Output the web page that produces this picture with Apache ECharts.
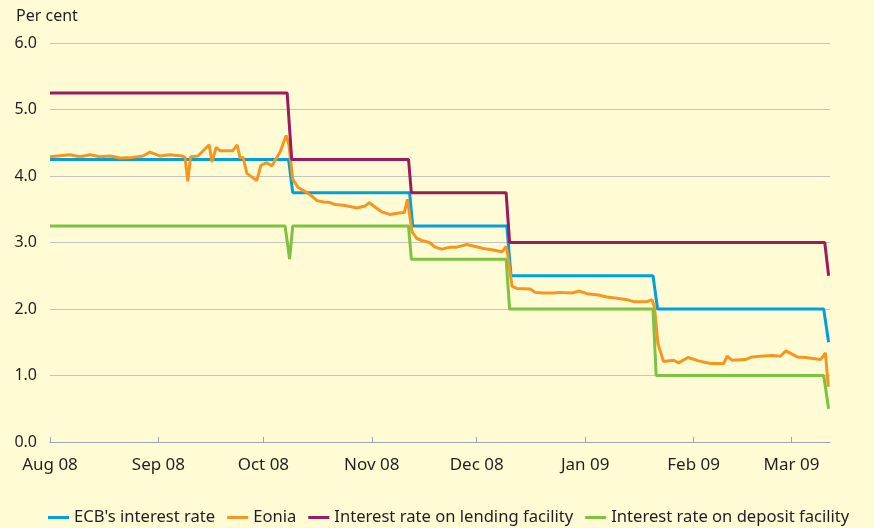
<!DOCTYPE html>
<html>
<head>
<meta charset="utf-8">
<script src="https://cdn.jsdelivr.net/npm/echarts@6/dist/echarts.min.js"></script>
<style>
  html, body { margin: 0; padding: 0; background: #fffcd5; }
  #chart { width: 874px; height: 528px; }
</style>
</head>
<body>
<div id="chart"></div>
<script>
// x values are days counted from 1 Aug 2008
const monthLabels = ['Aug 08', 'Sep 08', 'Oct 08', 'Nov 08', 'Dec 08', 'Jan 09', 'Feb 09', 'Mar 09'];
const monthStartDays = [0, 31, 61, 92, 122, 153, 184, 212];
const yTicks = [0, 1, 2, 3, 4, 5, 6];

// ECB's main refinancing rate
const ecbDays = [0, 68.2, 69.4, 102.8, 103.7, 130.6, 131.8, 172.4, 173.7, 221.2, 222.6];
const ecbValues = [4.25, 4.25, 3.75, 3.75, 3.25, 3.25, 2.5, 2.5, 2.0, 2.0, 1.5];

// Eonia (daily)
const eoniaDays = [0, 5.7, 8.6, 11.4, 14.3, 17.2, 20.0, 23.7, 26.6, 28.6, 31.5, 34.3, 37.8, 38.6, 39.4, 40.2,
  42.3, 45.5, 46.3, 47.5, 48.6, 52.3, 53.5, 54.3, 55.2, 56.3, 59.1, 60.3, 62.0, 63.4, 65.8, 67.5, 68.3,
  69.4, 70.9, 73.4, 74.8, 76.3, 78.2, 80.1, 81.5, 83.9, 85.8, 87.7, 90.1, 91.3, 93.0, 94.9, 97.3, 99.2,
  101.3, 102.2, 103.5, 104.9, 106.3, 108.5, 110.1, 112.0, 114.4, 116.3, 119.2, 121.6, 123.9, 126.3,
  129.2, 130.4, 130.8, 132.1, 133.5, 137.3, 138.7, 141.1, 144.0, 145.9, 149.2, 151.4, 153.5, 156.8,
  159.2, 162.1, 165.0, 166.8, 170.7, 172.1, 172.8, 173.8, 175.4, 178.3, 179.7, 182.4, 185.4, 188.8,
  192.6, 193.6, 195.0, 198.8, 200.7, 203.1, 206.4, 208.8, 210.4, 213.6, 216.0, 220.3, 221.7, 222.5];
const eoniaValues = [4.29, 4.32, 4.29, 4.32, 4.29, 4.30, 4.27, 4.28, 4.30, 4.36, 4.30, 4.32, 4.30, 4.28, 3.92, 4.29,
  4.30, 4.47, 4.21, 4.43, 4.38, 4.38, 4.47, 4.28, 4.28, 4.04, 3.93, 4.16, 4.20, 4.15, 4.36, 4.61, 4.47,
  3.95, 3.83, 3.75, 3.70, 3.63, 3.61, 3.60, 3.57, 3.56, 3.54, 3.52, 3.55, 3.60, 3.53, 3.46, 3.42, 3.44,
  3.45, 3.65, 3.16, 3.06, 3.03, 3.00, 2.93, 2.90, 2.93, 2.93, 2.97, 2.94, 2.91, 2.89,
  2.86, 2.94, 2.84, 2.34, 2.31, 2.30, 2.25, 2.24, 2.24, 2.25, 2.24, 2.27, 2.23, 2.21,
  2.18, 2.16, 2.14, 2.11, 2.11, 2.14, 2.03, 1.48, 1.21, 1.23, 1.19, 1.27, 1.22, 1.18,
  1.18, 1.29, 1.23, 1.24, 1.28, 1.29, 1.30, 1.29, 1.37, 1.28, 1.27, 1.24, 1.34, 0.83];

// marginal lending facility
const lendingDays = [0, 67.8, 69.1, 102.5, 103.3, 130.4, 131.4, 221.5, 222.6];
const lendingValues = [5.25, 5.25, 4.25, 4.25, 3.75, 3.75, 3.0, 3.0, 2.5];

// deposit facility
const depositDays = [0, 67.2, 68.5, 69.4, 102.5, 103.3, 130.4, 131.4, 172.4, 173.3, 221.2, 222.6];
const depositValues = [3.25, 3.25, 2.75, 3.25, 3.25, 2.75, 2.75, 2.0, 2.0, 1.0, 1.0, 0.5];

const zip = (xs, ys) => xs.map((x, i) => [x, ys[i]]);

const textColor = '#231f20';
const fontFamily = '"Noto Sans", "Open Sans", sans-serif';

const chart = echarts.init(document.getElementById('chart'));

const lineSeries = (name, days, values, color) => ({
    name: name,
    type: 'line',
    data: zip(days, values),
    showSymbol: false,
    lineStyle: { width: 3, color: color },
    itemStyle: { color: color },
    animation: false
});

chart.setOption({
    backgroundColor: '#fffcd5',
    textStyle: { fontFamily: fontFamily },
    title: {
        text: 'Per cent',
        left: 11,
        top: 3,
        textStyle: { fontSize: 16, fontWeight: 'normal', color: textColor, fontFamily: fontFamily }
    },
    grid: { left: 50, right: 44, top: 43, bottom: 86 },
    legend: {
        left: 43,
        top: 504,
        itemWidth: 21,
        itemHeight: 3,
        itemGap: 12,
        icon: 'rect',
        textStyle: { fontSize: 16.6, color: textColor, fontFamily: fontFamily },
        data: ["ECB's interest rate", 'Eonia', 'Interest rate on lending facility', 'Interest rate on deposit facility']
    },
    xAxis: {
        type: 'value',
        min: 0,
        max: 223,
        splitLine: { show: false },
        axisLine: { show: true, lineStyle: { color: '#9ea3b5', width: 1 } },
        axisTick: {
            show: true,
            inside: true,
            length: 5,
            customValues: monthStartDays,
            lineStyle: { color: '#9ea3b5' }
        },
        axisLabel: {
            customValues: monthStartDays,
            margin: 15,
            fontSize: 17,
            color: textColor,
            formatter: (v) => monthLabels[monthStartDays.indexOf(v)] || ''
        }
    },
    yAxis: {
        type: 'value',
        min: 0,
        max: 6,
        interval: 1,
        axisLine: { show: false },
        axisTick: { show: false },
        splitLine: { lineStyle: { color: '#c4c4c0', width: 1 } },
        axisLabel: {
            margin: 13,
            fontSize: 16,
            color: textColor,
            formatter: (v) => yTicks.includes(v) ? v.toFixed(1) : ''
        }
    },
    series: [
        lineSeries("ECB's interest rate", ecbDays, ecbValues, '#00a0dc'),
        lineSeries('Eonia', eoniaDays, eoniaValues, '#f7961e'),
        lineSeries('Interest rate on lending facility', lendingDays, lendingValues, '#9b1b5d'),
        lineSeries('Interest rate on deposit facility', depositDays, depositValues, '#7dc241')
    ]
});
</script>
</body>
</html>
